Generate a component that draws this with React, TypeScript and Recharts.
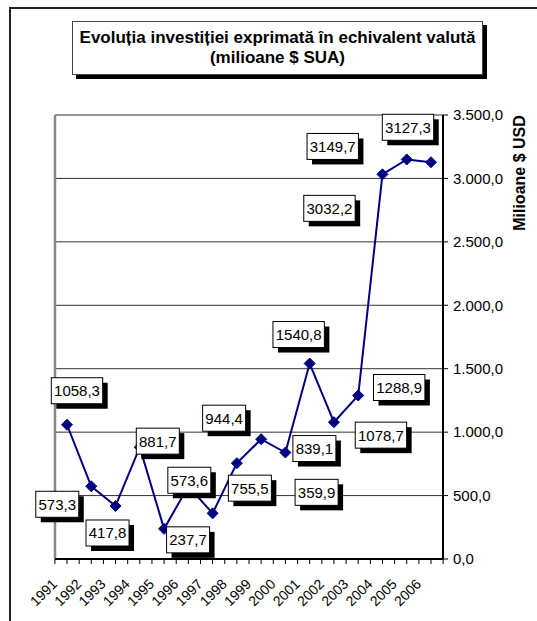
import React from "react";
import {
  LineChart,
  Line,
  XAxis,
  YAxis,
  CartesianGrid,
  ReferenceLine,
  LabelList,
} from "recharts";

const years = [
  "1991", "1992", "1993", "1994", "1995", "1996", "1997", "1998",
  "1999", "2000", "2001", "2002", "2003", "2004", "2005", "2006",
];
const investment = [
  1058.3, 573.3, 417.8, 881.7, 237.7, 573.6, 359.9, 755.5,
  944.4, 839.1, 1540.8, 1078.7, 1288.9, 3032.2, 3149.7, 3127.3,
];
const yTicks = [0, 500, 1000, 1500, 2000, 2500, 3000, 3500];

const titleLines = ["Evoluția investiției exprimată în echivalent valută", "(milioane $ SUA)"];
const axisTitle = "Milioane $ USD";

// label box offsets (relative to each point), as placed in the original
const labelOffsets: [number, number][] = [
  [10, -34], [-34, 18], [-8, 27], [18, -6], [24, 11], [1, -6], [104, -21], [13, 25],
  [-37, -21], [29, -4], [-11, -29], [47, 13], [41, -8], [-53, 34], [-74, -13], [-23, -35],
];

const data = years.map((y, i) => ({ year: y, value: investment[i] }));

const FONT = "'Liberation Sans', Arial, sans-serif";
const HALF = 12.1;

const fmtTick = (v: number) => {
  const s = Math.round(v).toString().replace(/\B(?=(\d{3})+(?!\d))/g, ".");
  return s + ",0";
};
const fmtVal = (v: number) => v.toFixed(1).replace(".", ",");

const Diamond = (props: any) => {
  const { cx, cy } = props;
  if (cx == null || cy == null) return null;
  const r = 5.5;
  return (
    <polygon
      points={`${cx},${cy - r} ${cx + r},${cy} ${cx},${cy + r} ${cx - r},${cy}`}
      fill="#000080"
      stroke="#000080"
    />
  );
};

const BoxLabel = (props: any) => {
  const { x, y, value, index } = props;
  if (x == null || y == null) return null;
  const txt = fmtVal(Number(value));
  const [dx, dy] = labelOffsets[index] || [0, -20];
  const w = txt.length * 8.4 + 1;
  const h = 26;
  const cx = x + dx;
  const cy = y + dy;
  return (
    <g>
      <rect x={cx - w / 2 + 5} y={cy - h / 2 + 5} width={w} height={h} fill="#000" />
      <rect x={cx - w / 2} y={cy - h / 2} width={w} height={h} fill="#fff" stroke="#000" strokeWidth={1} />
      <text
        x={cx}
        y={cy + 5.5}
        textAnchor="middle"
        fontSize={15}
        fontFamily={FONT}
        fill="#000"
      >
        {txt}
      </text>
    </g>
  );
};

const YearTick = (props: any) => {
  const { x, y, payload, index } = props;
  const last = index === years.length - 1;
  const tx = x - 9;
  const ty = y + 26;
  return (
    <g>
      <line x1={x - HALF} x2={x - HALF} y1={y} y2={y + 5} stroke="#000" strokeWidth={1} />
      <line x1={x} x2={x} y1={y} y2={y + 5} stroke="#000" strokeWidth={1} />
      {last && <line x1={x + HALF} x2={x + HALF} y1={y} y2={y + 5} stroke="#000" strokeWidth={1} />}
      <text
        x={tx}
        y={ty}
        transform={`rotate(-45 ${tx} ${ty})`}
        textAnchor="end"
        fontSize={14}
        fontFamily={FONT}
        fill="#000"
      >
        {payload.value}
      </text>
    </g>
  );
};

const AxisTitle = (props: any) => {
  const vb = props.viewBox || {};
  const x = (vb.x ?? 443) + 82;
  const y = (vb.y ?? 115) + 58;
  return (
    <text
      x={x}
      y={y}
      transform={`rotate(-90 ${x} ${y})`}
      textAnchor="middle"
      fontSize={16}
      fontWeight="bold"
      fontFamily={FONT}
      fill="#000"
    >
      {axisTitle}
    </text>
  );
};

export default function App() {
  return (
    <div style={{ position: "absolute", left: 0, top: 0, width: 537, height: 621, background: "#fff", overflow: "hidden" }}>
      <div
        style={{
          position: "absolute",
          left: 9,
          top: 7,
          width: 600,
          height: 700,
          borderLeft: "2px solid #222",
          borderTop: "2px solid #222",
        }}
      />
      <div style={{ position: "absolute", left: 0, top: 0 }}>
        <LineChart
          width={537}
          height={621}
          data={data}
          margin={{ top: 115, right: 0, bottom: 12, left: 55 }}
        >
          <CartesianGrid yAxisId="r" vertical={false} stroke="#333" strokeWidth={1} />
          <CartesianGrid
            yAxisId="r"
            horizontal={false}
            verticalCoordinatesGenerator={(p: any) => [p.offset.left]}
            stroke="#888"
            strokeWidth={2.5}
          />
          <XAxis
            dataKey="year"
            padding={{ left: 12, right: 12 }}
            height={50}
            tickSize={0}
            tickMargin={0}
            tickLine={false}
            axisLine={{ stroke: "#000", strokeWidth: 2 }}
            tick={<YearTick />}
            interval={0}
          />
          <YAxis
            yAxisId="r"
            orientation="right"
            width={94}
            domain={[0, 3500]}
            ticks={yTicks}
            interval={0}
            tickFormatter={fmtTick}
            tickSize={5}
            tickMargin={5}
            tick={{ fontSize: 15, fontFamily: FONT, fill: "#000" }}
            tickLine={{ stroke: "#000" }}
            axisLine={{ stroke: "#000", strokeWidth: 2 }}
            label={<AxisTitle />}
          />
          <ReferenceLine yAxisId="r" y={3500} stroke="#999" strokeWidth={2} />
          <Line
            yAxisId="r"
            type="linear"
            dataKey="value"
            stroke="#000080"
            strokeWidth={2}
            dot={<Diamond />}
            activeDot={false}
            isAnimationActive={false}
          >
            <LabelList dataKey="value" content={<BoxLabel />} />
          </Line>
        </LineChart>
      </div>
      <div
        style={{
          position: "absolute",
          left: 72,
          top: 21,
          width: 409,
          height: 52,
          border: "1px solid #444",
          boxShadow: "4px 4px 0 #000",
          background: "#fff",
          display: "flex",
          flexDirection: "column",
          alignItems: "center",
          justifyContent: "center",
          fontFamily: FONT,
          fontWeight: "bold",
          fontSize: 17,
          lineHeight: "20px",
          color: "#000",
        }}
      >
        <div>{titleLines[0]}</div>
        <div>{titleLines[1]}</div>
      </div>
    </div>
  );
}
